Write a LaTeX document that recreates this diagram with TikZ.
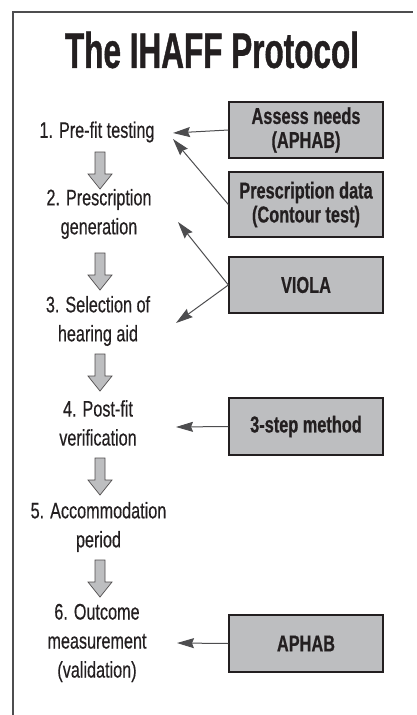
\documentclass[tikz,border=0pt]{standalone}
\usepackage{fontspec}
\setmainfont[FakeStretch=0.72,FakeBold=0.4]{Liberation Sans}
\newfontfamily\boxfont[FakeStretch=0.71,FakeBold=0.6]{Liberation Sans}
\newfontfamily\titlefont[FakeStretch=0.63,FakeBold=0.8]{Liberation Sans}
\usepackage{tikz}
\usetikzlibrary{arrows.meta}

\definecolor{ink}{HTML}{231F20}
\definecolor{boxgray}{HTML}{BDBEC0}
\definecolor{framegray}{HTML}{4D4D4F}

\tikzset{
  steptext/.style={ink, align=center, font=\fontsize{22.5}{29}\selectfont},
  toolbox/.style={draw=ink, line width=1.3pt, fill=boxgray, minimum width=154pt,
    align=center, text=ink, font=\boxfont\bfseries\fontsize{23}{24}\selectfont},
  feed/.style={framegray, line width=1pt, -{Stealth[length=17pt,width=10pt,inset=2pt]}},
  blockarrow/.style={draw=ink!80, line width=0.7pt, fill=boxgray}
}

\begin{document}
\begin{tikzpicture}[x=1pt,y=-1pt]
  \useasboundingbox (0,0) rectangle (416,715);
  % frame
  \draw[framegray, line width=1.4pt] (13,715) -- (13,12) -- (413,12);
  \node[ink, font=\titlefont\bfseries\fontsize{50}{52}\selectfont] (title) at (212,50) {The IHAFF Protocol};

  % steps
  \node[steptext] (s1) at (97,132) {1. Pre-fit testing};
  \node[steptext] (s2) at (99,214) {2. Prescription\\generation};
  \node[steptext] (s3) at (98,321) {3. Selection of\\hearing aid};
  \node[steptext] (s4) at (98,423) {4. Post-fit\\verification};
  \node[steptext] (s5) at (98.5,527) {5. Accommodation\\period};
  \node[steptext] (s6) at (97,643) {6. Outcome\\measurement\\(validation)};

  % down arrows between steps
  \foreach \ytop in {152,253,354,458,560}{
    \draw[blockarrow] (95,\ytop) -- (105,\ytop) -- (105,\ytop+22) -- (112,\ytop+22)
      -- (100,\ytop+37) -- (88,\ytop+22) -- (95,\ytop+22) -- cycle;
  }

  % tools
  \node[toolbox, minimum height=56pt] (b1) at (306,130) {Assess needs\\(APHAB)};
  \node[toolbox, minimum height=65pt] (b2) at (306,204.5) {Prescription data\\(Contour test)};
  \node[toolbox, minimum height=56pt] (b3) at (306,285) {VIOLA};
  \node[toolbox, minimum height=57pt] (b4) at (306,426.5) {3-step method};
  \node[toolbox, minimum height=57pt] (b5) at (306,643.5) {APHAB};

  \coordinate (p1) at (173,133);
  \coordinate (p1b) at (173,139);
  \coordinate (p2) at (178,222);
  \coordinate (p3) at (176,323);
  \coordinate (p4) at (176,427);
  \coordinate (p6) at (177,643);

  \draw[feed] (b1.west) -- (p1);
  \draw[feed] (b2.west) -- (p1b);
  \draw[feed] (b3.west) -- (p2);
  \draw[feed] (b3.west) -- (p3);
  \draw[feed] (b4.west) -- (p4);
  \draw[feed] (b5.west) -- (p6);
\end{tikzpicture}
\end{document}
